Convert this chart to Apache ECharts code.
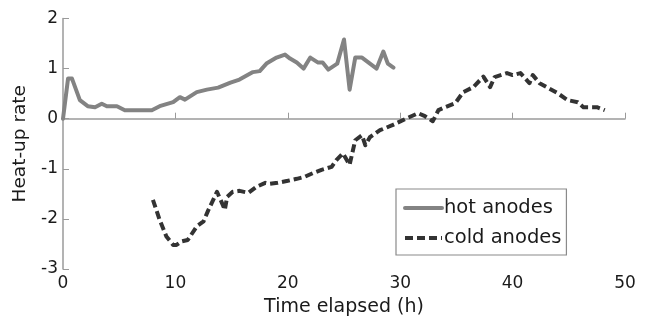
<!DOCTYPE html>
<html>
<head>
<meta charset="utf-8">
<script src="https://cdn.jsdelivr.net/npm/echarts@6/dist/echarts.min.js"></script>
<style>
  html, body { margin: 0; padding: 0; background: #fff; }
  #chart { width: 649px; height: 322px; }
</style>
</head>
<body>
<div id="chart"></div>
<script>
// Heat-up rate of anodes over time
const hotTime = [0, 0.45, 0.8, 1.5, 2.2, 2.85, 3.45, 3.9, 4.8, 5.5, 7.9, 8.6, 9.8, 10.4, 10.85, 11.9, 12.8, 13.8, 14.9, 15.7, 16.9, 17.5, 18.1, 19, 19.75, 20.2, 20.8, 21.4, 22, 22.7, 23.1, 23.6, 24.4, 25, 25.5, 26, 26.6, 27.9, 28.5, 28.9, 29.4];
const hotRate = [0, 0.8, 0.8, 0.37, 0.25, 0.23, 0.3, 0.25, 0.25, 0.17, 0.17, 0.25, 0.33, 0.43, 0.38, 0.53, 0.58, 0.62, 0.72, 0.78, 0.93, 0.95, 1.1, 1.22, 1.28, 1.2, 1.12, 1.0, 1.22, 1.12, 1.12, 0.98, 1.1, 1.58, 0.58, 1.22, 1.22, 1.0, 1.34, 1.1, 1.02];

const coldTime = [8, 8.6, 9.2, 9.8, 10.1, 10.55, 11.1, 11.9, 12.5, 12.9, 13.7, 14.1, 14.4, 14.6, 15.1, 15.7, 16.5, 17.2, 18, 18.4, 19.1, 20, 20.8, 21.5, 22.3, 23, 23.9, 24.3, 24.9, 25.5, 26, 26.6, 26.9, 27.3, 28.2, 29.3, 30.6, 31.6, 32.2, 32.9, 33.4, 34, 34.9, 35.6, 36.5, 37.4, 38, 38.4, 39.5, 40, 40.7, 41.5, 41.8, 42.4, 43.2, 44, 44.9, 45.8, 46.3, 47.5, 48.2];
const coldRate = [-1.62, -2.02, -2.35, -2.52, -2.52, -2.45, -2.42, -2.15, -2.05, -1.84, -1.46, -1.66, -1.82, -1.56, -1.46, -1.44, -1.48, -1.36, -1.28, -1.3, -1.28, -1.24, -1.2, -1.16, -1.08, -1.02, -0.96, -0.83, -0.69, -0.92, -0.43, -0.33, -0.53, -0.37, -0.23, -0.13, 0.01, 0.11, 0.05, -0.05, 0.17, 0.23, 0.31, 0.53, 0.63, 0.84, 0.63, 0.83, 0.91, 0.87, 0.91, 0.71, 0.87, 0.71, 0.61, 0.51, 0.37, 0.33, 0.23, 0.23, 0.17];

const xTicks = [0, 10, 20, 30, 40, 50];
const yTicks = [-3, -2, -1, 0, 1, 2];
const seriesNames = ['hot anodes', 'cold anodes'];

const pairs = (xs, ys) => xs.map((x, i) => [x, ys[i]]);

const FONT = 'DejaVu Sans';
const AXIS_COLOR = '#9a9a9a';

const chart = echarts.init(document.getElementById('chart'), null, { renderer: 'canvas' });

chart.setOption({
  animation: false,
  backgroundColor: '#ffffff',
  grid: { left: 63, right: 24, top: 18.5, bottom: 52, containLabel: false },
  xAxis: {
    type: 'value',
    min: xTicks[0],
    max: xTicks[xTicks.length - 1],
    interval: 10,
    name: 'Time elapsed (h)',
    nameLocation: 'middle',
    nameGap: 29,
    nameTextStyle: { fontFamily: FONT, fontSize: 19, color: '#1a1a1a' },
    axisLine: { show: true, lineStyle: { color: AXIS_COLOR, width: 1.5 } },
    axisTick: { show: true, inside: true, length: 6, lineStyle: { color: AXIS_COLOR, width: 1 } },
    axisLabel: { fontFamily: FONT, fontSize: 17, color: '#1a1a1a', margin: 6 },
    splitLine: { show: false }
  },
  yAxis: {
    type: 'value',
    min: yTicks[0],
    max: yTicks[yTicks.length - 1],
    interval: 1,
    name: 'Heat-up rate',
    nameLocation: 'middle',
    nameGap: 33,
    nameTextStyle: { fontFamily: FONT, fontSize: 18.5, color: '#1a1a1a' },
    axisLine: { show: true, lineStyle: { color: AXIS_COLOR, width: 1.5 } },
    axisTick: { show: true, inside: true, length: 6, lineStyle: { color: AXIS_COLOR, width: 1 } },
    axisLabel: { fontFamily: FONT, fontSize: 17, color: '#1a1a1a', margin: 5 },
    splitLine: { show: false }
  },
  legend: {
    orient: 'vertical',
    left: 396,
    top: 189,
    padding: [9, 5, 7, 7],
    itemGap: 10,
    itemWidth: 37,
    itemHeight: 14,
    borderColor: '#8a8a8a',
    borderWidth: 1.2,
    backgroundColor: '#ffffff',
    // line-only keys: hide the marker drawn on top of the line sample
    itemStyle: { color: 'rgba(0,0,0,0)', borderWidth: 0, opacity: 0 },
    lineStyle: { width: 4 },
    textStyle: { fontFamily: FONT, fontSize: 19.5, color: '#1a1a1a', padding: [0, 0, 0, -3] },
    data: seriesNames
  },
  series: [
    {
      name: seriesNames[0],
      type: 'line',
      data: pairs(hotTime, hotRate),
      symbol: 'none',
      showSymbol: false,
      color: '#838383',
      lineStyle: { color: '#838383', width: 4, join: 'round', cap: 'round' }
    },
    {
      name: seriesNames[1],
      type: 'line',
      data: pairs(coldTime, coldRate),
      symbol: 'none',
      showSymbol: false,
      color: '#333333',
      lineStyle: { color: '#333333', width: 4, type: [8, 4], join: 'round' }
    }
  ]
});
</script>
</body>
</html>
